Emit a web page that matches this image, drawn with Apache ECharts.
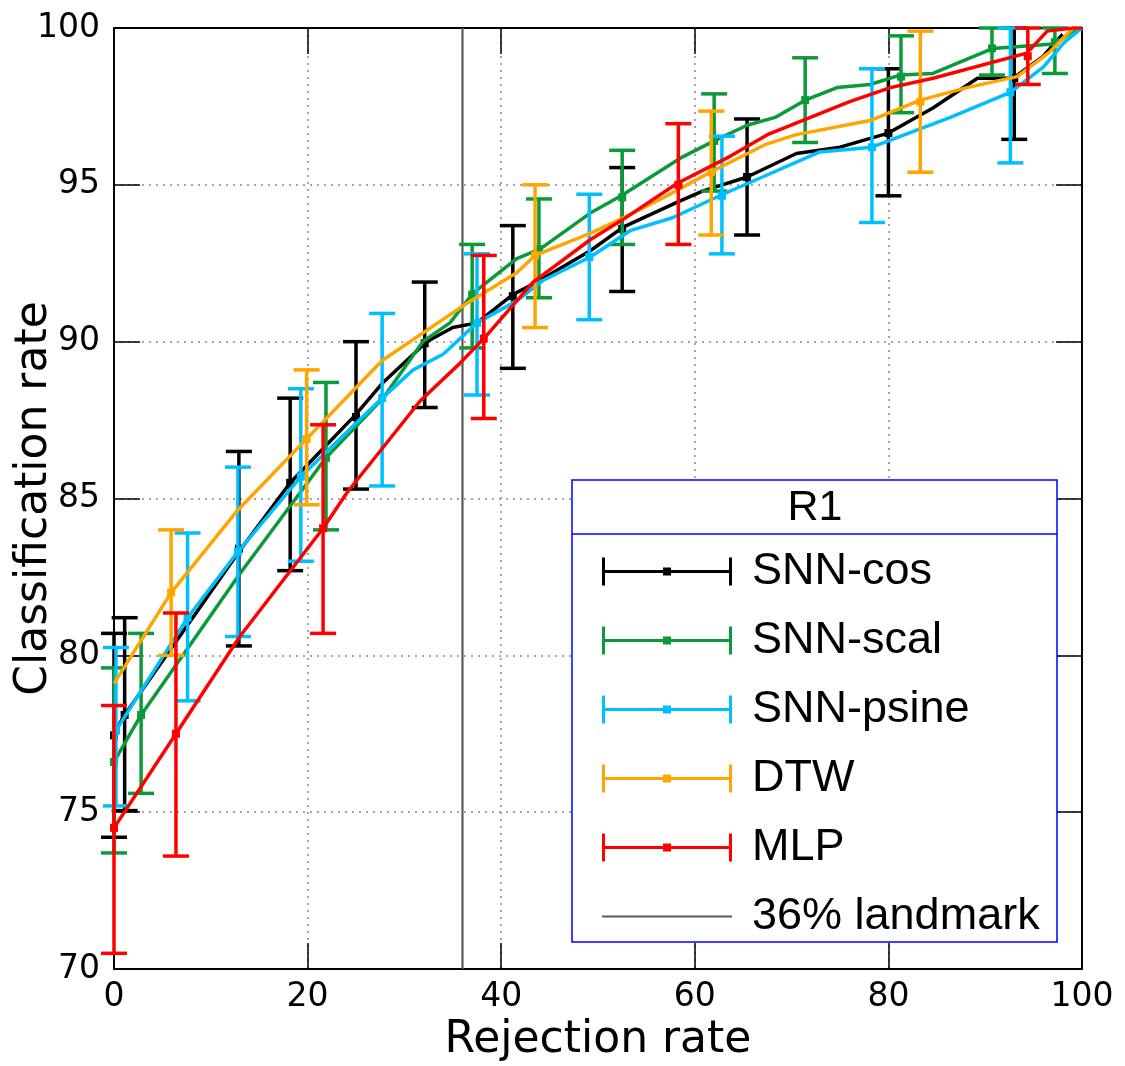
<!DOCTYPE html>
<html>
<head>
<meta charset="utf-8">
<script src="https://cdn.jsdelivr.net/npm/echarts@6/dist/echarts.min.js"></script>
<style>
html,body{margin:0;padding:0;background:#fff;}
#chart{width:1125px;height:1066px;}
</style>
</head>
<body>
<div id="chart"></div>
<script>
// ---------------- DATA ----------------
var seriesNames = ['SNN-cos', 'SNN-scal', 'SNN-psine', 'DTW', 'MLP'];
var landmarkName = '36% landmark';
var landmarkX = 36;

// SNN-cos
var cosLineX = [0, 1.1, 12.9, 18.2, 24.9, 27.8, 32.3, 35.0, 37.5, 41.2, 43.7, 49.2, 52.6, 58.2, 60.8, 65.4, 70.5, 75.0, 80.0, 84.6, 89.2, 92.9, 96.0, 98.0];
var cosLineY = [77.5, 78.1, 83.3, 85.5, 87.65, 88.7, 90.0, 90.45, 90.6, 91.5, 91.9, 92.9, 93.65, 94.45, 94.8, 95.25, 96.0, 96.2, 96.65, 97.45, 98.4, 98.4, 99.1, 99.8];
var cosBarX    = [0, 1.1, 12.9, 18.2, 25.0, 32.1, 41.2, 52.5, 65.4, 80.0, 93.0];
var cosBarLow  = [74.2, 75.05, 80.3, 82.7, 85.3, 87.9, 89.15, 91.6, 93.4, 94.65, 96.45];
var cosBarMid  = [77.45, 78.1, 83.4, 85.5, 87.6, 89.95, 91.45, 93.6, 95.25, 96.65, 98.4];
var cosBarHigh = [80.7, 81.2, 86.5, 88.2, 90.0, 91.9, 93.7, 95.55, 97.1, 98.7, 100];

// SNN-scal
var scalLineX = [0, 2.8, 13.0, 21.9, 27.8, 31.9, 34.7, 37.1, 41.6, 44.0, 49.2, 52.4, 58.5, 62.0, 65.4, 68.3, 71.4, 74.7, 78.1, 81.2, 84.6, 90.8, 97.3, 99.5];
var scalLineY = [76.6, 78.1, 82.6, 86.3, 88.2, 90.0, 90.6, 91.55, 92.65, 92.95, 94.1, 94.65, 95.85, 96.4, 96.9, 97.15, 97.7, 98.1, 98.2, 98.5, 98.55, 99.35, 99.5, 100];
var scalBarX    = [0, 2.8, 21.9, 37.0, 43.9, 52.5, 62.0, 71.4, 81.3, 90.7, 97.2];
var scalBarLow  = [73.7, 75.6, 84.0, 89.8, 91.4, 93.1, 94.8, 96.35, 97.3, 98.5, 98.55];
var scalBarMid  = [76.6, 78.1, 86.3, 91.5, 92.95, 94.6, 96.4, 97.7, 98.45, 99.35, 99.55];
var scalBarHigh = [79.6, 80.7, 88.7, 93.1, 94.55, 96.1, 97.9, 99.05, 99.75, 100, 100];

// SNN-psine
var psineLineX = [0.2, 7.6, 12.8, 19.3, 27.7, 30.9, 34.0, 37.5, 41.6, 44.3, 49.2, 53.4, 57.7, 62.9, 67.0, 72.9, 78.3, 83.0, 86.4, 92.6, 96.0, 98.2, 100];
var psineLineY = [77.6, 81.2, 83.3, 85.7, 88.2, 89.1, 89.6, 90.6, 91.3, 91.95, 92.7, 93.55, 93.95, 94.7, 95.25, 96.05, 96.2, 96.75, 97.15, 97.95, 98.75, 99.55, 100];
var psineBarX    = [0.2, 7.6, 12.8, 19.3, 27.7, 37.5, 49.1, 62.8, 78.3, 92.6];
var psineBarLow  = [75.2, 78.55, 80.6, 83.0, 85.4, 88.3, 90.7, 92.8, 93.8, 95.7];
var psineBarMid  = [77.6, 81.2, 83.3, 85.7, 88.2, 90.6, 92.7, 94.65, 96.2, 97.95];
var psineBarHigh = [80.25, 83.9, 86.0, 88.5, 90.9, 92.8, 94.7, 96.55, 98.7, 100];

// DTW
var dtwLineX = [0, 5.9, 12.7, 19.9, 27.7, 36.1, 41.6, 43.5, 49.2, 52.3, 56.8, 61.6, 67.4, 70.5, 78.1, 83.3, 88.1, 93.3, 96.7, 99.1, 100];
var dtwLineY = [79.1, 82.0, 84.6, 86.9, 89.4, 91.15, 92.2, 92.75, 93.45, 93.9, 94.6, 95.4, 96.3, 96.6, 97.05, 97.7, 98.1, 98.45, 99.25, 100, 100];
var dtwBarX    = [5.9, 19.9, 43.5, 61.7, 83.3];
var dtwBarLow  = [80.0, 84.8, 90.45, 93.4, 95.4];
var dtwBarMid  = [82.0, 86.9, 92.75, 95.4, 97.65];
var dtwBarHigh = [84.0, 89.1, 95.0, 97.35, 99.9];

// MLP
var mlpLineX = [0, 6.4, 13.0, 21.6, 24.1, 31.6, 35.7, 38.2, 43.3, 49.2, 52.6, 58.2, 63.6, 67.5, 76.0, 80.2, 84.6, 94.3, 96.4, 99.1, 100];
var mlpLineY = [74.5, 77.5, 80.6, 84.05, 85.2, 88.1, 89.3, 90.1, 91.9, 93.25, 93.9, 95.05, 95.9, 96.6, 97.65, 98.1, 98.4, 99.2, 99.9, 100, 100];
var mlpBarX    = [0, 6.4, 21.6, 38.2, 58.3, 94.4];
var mlpBarLow  = [70.5, 73.6, 80.7, 87.55, 93.1, 98.2];
var mlpBarMid  = [74.5, 77.5, 84.05, 90.1, 95.0, 99.1];
var mlpBarHigh = [78.4, 81.35, 87.35, 92.75, 96.95, 100];

var xMin = 0, xMax = 100, xStep = 20;
var yMin = 70, yMax = 100, yStep = 5;
var xTitle = 'Rejection rate';
var yTitle = 'Classification rate';
var legendTitle = 'R1';

// ---------------- STYLE ----------------
var colors = ['#000000', '#0b9a3a', '#00bfff', '#ffa500', '#ff0000'];
var landmarkColor = '#5a5a5a';

var lineSets = [
  [cosLineX, cosLineY, cosBarX, cosBarLow, cosBarMid, cosBarHigh],
  [scalLineX, scalLineY, scalBarX, scalBarLow, scalBarMid, scalBarHigh],
  [psineLineX, psineLineY, psineBarX, psineBarLow, psineBarMid, psineBarHigh],
  [dtwLineX, dtwLineY, dtwBarX, dtwBarLow, dtwBarMid, dtwBarHigh],
  [mlpLineX, mlpLineY, mlpBarX, mlpBarLow, mlpBarMid, mlpBarHigh]
];

function zip2(a, b) { return a.map(function (v, i) { return [v, b[i]]; }); }
function zip4(a, b, c, d) { return a.map(function (v, i) { return [v, b[i], c[i], d[i]]; }); }

function makeBarRenderer(color) {
  return function (params, api) {
    var x = api.value(0), lo = api.value(1), hi = api.value(3), mid = api.value(2);
    var pLo = api.coord([x, lo]), pHi = api.coord([x, hi]), pMid = api.coord([x, mid]);
    var hw = 13;
    var st = { stroke: color, lineWidth: 3.5, fill: null };
    return {
      type: 'group',
      children: [
        { type: 'line', shape: { x1: pLo[0], y1: pLo[1], x2: pHi[0], y2: pHi[1] }, style: st },
        { type: 'line', shape: { x1: pLo[0] - hw, y1: pLo[1], x2: pLo[0] + hw, y2: pLo[1] }, style: st },
        { type: 'line', shape: { x1: pHi[0] - hw, y1: pHi[1], x2: pHi[0] + hw, y2: pHi[1] }, style: st },
        { type: 'rect', shape: { x: pMid[0] - 4, y: pMid[1] - 4, width: 8, height: 8 }, style: { fill: color } }
      ]
    };
  };
}

var series = [];
series.push({
  name: landmarkName, type: 'line', data: [[landmarkX, yMin], [landmarkX, yMax]],
  showSymbol: false, symbol: 'none', color: landmarkColor,
  lineStyle: { color: landmarkColor, width: 2.2 }, z: 1, silent: true
});
lineSets.forEach(function (s, i) {
  series.push({
    name: seriesNames[i], type: 'line', data: zip2(s[0], s[1]),
    showSymbol: false, symbol: 'none', color: colors[i],
    lineStyle: { color: colors[i], width: 3.5 }, z: 3 + i, silent: true, animation: false
  });
  series.push({
    name: seriesNames[i], type: 'custom', data: zip4(s[2], s[3], s[4], s[5]),
    renderItem: makeBarRenderer(colors[i]), color: colors[i], z: 3 + i, silent: true, clip: false,
    encode: { x: 0, y: [1, 2, 3] }
  });
});

var ebIcon = 'path://M0,0 h3 v28 h-3 z M127,0 h3 v28 h-3 z M0,12.5 h130 v3 h-130 z M61,10 h8 v8 h-8 z';
var lmIcon = 'path://M0,0 L0.01,0 L0,0.01 Z M130,28 L129.99,28 L130,27.99 Z M0,13 h130 v2 h-130 z';

var legendData = seriesNames.map(function (n) { return { name: n, icon: ebIcon }; });
legendData.push({ name: landmarkName, icon: lmIcon });

var axisFont = 'DejaVu Sans';
var option = {
  animation: false,
  backgroundColor: '#fff',
  grid: { left: 114, right: 43, top: 28, bottom: 97, containLabel: false, outerBoundsMode: 'none' },
  xAxis: [
    {
      type: 'value', min: xMin, max: xMax, interval: xStep, position: 'bottom',
      name: xTitle, nameLocation: 'middle', nameGap: 46,
      nameTextStyle: { fontSize: 44, fontFamily: axisFont, color: '#000' },
      axisLine: { show: true, onZero: false, lineStyle: { color: '#000', width: 2 } },
      axisTick: { show: true, inside: true, length: 26, lineStyle: { color: '#000', width: 1.5 } },
      axisLabel: { fontSize: 33, fontFamily: axisFont, color: '#000', margin: 12 },
      splitLine: { show: true, lineStyle: { color: '#888', width: 1.5, type: [2, 5] } }
    },
    {
      type: 'value', min: xMin, max: xMax, interval: xStep, position: 'top',
      axisLine: { show: true, onZero: false, lineStyle: { color: '#000', width: 2 } },
      axisTick: { show: true, inside: true, length: 26, lineStyle: { color: '#000', width: 1.5 } },
      axisLabel: { show: false }, splitLine: { show: false }
    }
  ],
  yAxis: [
    {
      type: 'value', min: yMin, max: yMax, interval: yStep, position: 'left',
      name: yTitle, nameLocation: 'middle', nameGap: 57, nameRotate: 90, nameMoveOverlap: false,
      nameTextStyle: { fontSize: 44, fontFamily: axisFont, color: '#000' },
      axisLine: { show: true, onZero: false, lineStyle: { color: '#000', width: 2 } },
      axisTick: { show: true, inside: true, length: 26, lineStyle: { color: '#000', width: 1.5 } },
      axisLabel: { fontSize: 33, fontFamily: axisFont, color: '#000', margin: 14 },
      splitLine: { show: true, lineStyle: { color: '#888', width: 1.5, type: [2, 5] } }
    },
    {
      type: 'value', min: yMin, max: yMax, interval: yStep, position: 'right',
      axisLine: { show: true, onZero: false, lineStyle: { color: '#000', width: 2 } },
      axisTick: { show: true, inside: true, length: 26, lineStyle: { color: '#000', width: 1.5 } },
      axisLabel: { show: false }, splitLine: { show: false }
    }
  ],
  legend: {
    orient: 'vertical', left: 597, top: 544,
    itemWidth: 130, itemHeight: 28, itemGap: 24,
    selectedMode: false, symbolKeepAspect: false,
    itemStyle: { borderWidth: 0 },
    textStyle: { fontSize: 45, fontFamily: 'Liberation Sans', color: '#000', lineHeight: 28, padding: [0, 0, 0, 15] },
    data: legendData, z: 10
  },
  graphic: [
    { type: 'rect', z: 8, shape: { x: 572, y: 480, width: 485, height: 462 }, style: { fill: '#fff', stroke: '#0000ff', lineWidth: 1.5 } },
    { type: 'line', z: 9, shape: { x1: 572, y1: 534, x2: 1057, y2: 534 }, style: { stroke: '#0000ff', lineWidth: 1.5 } },
    { type: 'text', z: 9, x: 815, y: 508, style: { text: legendTitle, fontSize: 43, fontFamily: 'Liberation Sans', fill: '#000', textAlign: 'center', textVerticalAlign: 'middle' } }
  ],
  series: series
};

var chart = echarts.init(document.getElementById('chart'), null, { renderer: 'canvas' });
chart.setOption(option);
</script>
</body>
</html>
